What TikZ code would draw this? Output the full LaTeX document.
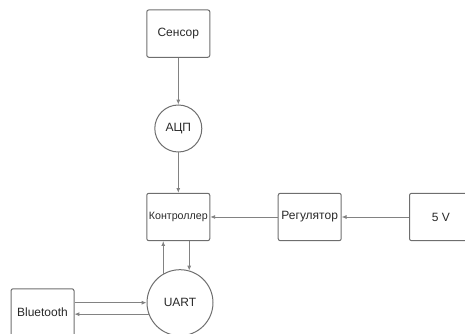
\documentclass[tikz,border=0pt]{standalone}
\usepackage{fontspec}
\setmainfont{Liberation Sans}
\usetikzlibrary{arrows.meta}

\tikzset{every picture/.style={line width=0.75pt}}
\tikzset{
  block/.style={draw={rgb,255:red,110;green,110;blue,110}, rounded corners=1.5pt, minimum width=47.25pt, minimum height=35.5pt, inner sep=0pt, text={rgb,255:red,40;green,40;blue,40}, font=\fontsize{9}{10}\selectfont},
  roundblock/.style={draw={rgb,255:red,110;green,110;blue,110}, circle, inner sep=0pt, text={rgb,255:red,40;green,40;blue,40}, font=\fontsize{9}{10}\selectfont},
  link/.style={draw={rgb,255:red,130;green,130;blue,130}, line width=0.6pt, -{Latex[length=3.6pt,width=3pt]}}
}

\begin{document}
\begin{tikzpicture}[x=0.75pt,y=0.75pt,yscale=-1,xscale=1]
\useasboundingbox (0,0) rectangle (465,334);

%Shape: Rectangle [id:sensor]
\node [block] (sensor) at (178.3,33.6) {Сенсор};
%Shape: Circle [id:adc]
\node [roundblock, minimum size=35.25pt] (adc) at (178.3,128.5) {АЦП};
%Shape: Rectangle [id:ctrl]
\node [block, font=\fontsize{8}{9}\selectfont] (ctrl) at (178.3,217) {Контроллер};
%Shape: Rectangle [id:reg]
\node [block] (reg) at (309.7,217) {Регулятор};
%Shape: Rectangle [id:volt]
\node [block] (volt) at (441,217) {5 V};
%Shape: Circle [id:uart]
\node [roundblock, minimum size=49.5pt] (uart) at (180,302.7) {UART};
%Shape: Rectangle [id:bt]
\node [block] (bt) at (42.5,312.5) {Bluetooth};

%Straight Lines
\draw [link] (sensor.south) -- (adc.north);
\draw [link] (adc.south) -- (ctrl.north);
\draw [link] (volt.west) -- (reg.east);
\draw [link] (reg.west) -- (ctrl.east);
\draw [link] (uart.120) -- (uart.120 |- ctrl.south);
\draw [link] (ctrl.south -| uart.74) -- (uart.74);
\draw [link] (bt.east |- uart.west) -- (uart.west);
\draw [link] (uart.200) -- (uart.200 -| bt.east);

\end{tikzpicture}
\end{document}
